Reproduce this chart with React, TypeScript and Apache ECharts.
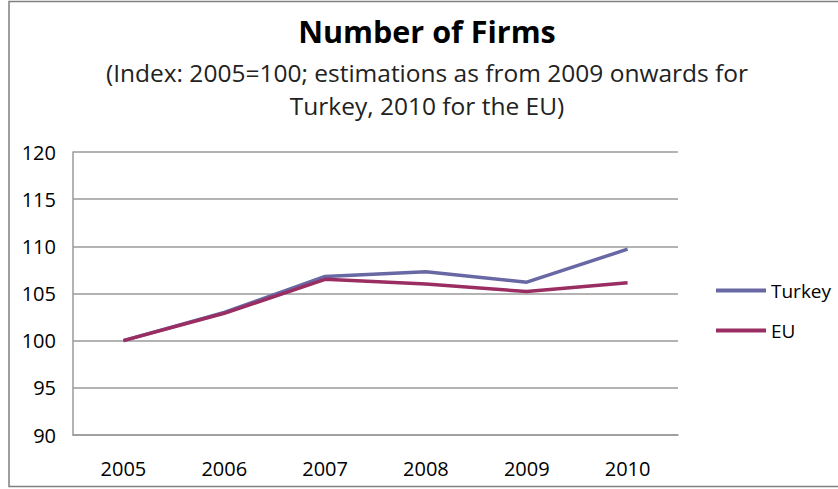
import React, { useEffect, useRef } from "react";
import * as echarts from "echarts";

const years = ["2005", "2006", "2007", "2008", "2009", "2010"];
const turkey = [100, 103.0, 106.8, 107.3, 106.2, 109.7];
const eu = [100, 102.9, 106.5, 106.0, 105.2, 106.15];
const titleText = "Number of Firms";
const subtitleText = "(Index: 2005=100; estimations as from 2009 onwards for\nTurkey, 2010 for the EU)";

const FONT = "'Open Sans', Lato, sans-serif";

export default function App() {
  const ref = useRef<HTMLDivElement>(null);
  useEffect(() => {
    if (!ref.current) return;
    const chart = echarts.init(ref.current, null, { renderer: "svg" });
    chart.setOption({
      animation: false,
      backgroundColor: "#ffffff",
      textStyle: { fontFamily: FONT },
      title: {
        text: titleText,
        subtext: subtitleText,
        left: 422,
        textAlign: "center",
        top: 10,
        itemGap: 10,
        textStyle: { fontSize: 30.5, fontWeight: "bold", color: "#000", fontFamily: FONT },
        subtextStyle: { fontSize: 24.5, color: "#222", lineHeight: 33, fontFamily: FONT },
      },
      graphic: [
        {
          type: "rect",
          shape: { x: 9, y: 1.5, width: 840, height: 485 },
          style: { fill: "none", stroke: "#7f7f7f", lineWidth: 1.5 },
          silent: true,
        },
      ],
      legend: {
        orient: "vertical",
        left: 711,
        top: 276,
        itemWidth: 50,
        itemHeight: 4,
        itemGap: 21,
        icon: "rect",
        textStyle: { fontSize: 19, color: "#000", fontFamily: FONT },
        data: ["Turkey", "EU"],
      },
      grid: { left: 73, right: 160, top: 152, bottom: 54, containLabel: false },
      xAxis: {
        type: "category",
        data: years,
        boundaryGap: true,
        axisLine: { show: true, lineStyle: { color: "#9a9a9a", width: 1.5 } },
        axisTick: { show: false },
        axisLabel: { fontSize: 20, color: "#000", margin: 23, fontFamily: FONT },
      },
      yAxis: {
        type: "value",
        min: 90,
        max: 120,
        interval: 5,
        axisLine: { show: true, lineStyle: { color: "#9a9a9a", width: 1.5 } },
        axisTick: { show: false },
        axisLabel: { fontSize: 20, color: "#000", margin: 17, fontFamily: FONT },
        splitLine: { show: true, lineStyle: { color: "#9a9a9a", width: 1.5 } },
      },
      series: [
        {
          name: "Turkey",
          type: "line",
          data: turkey,
          symbol: "none",
          color: "#6868a4",
          lineStyle: { width: 3.5, color: "#6868a4" },
        },
        {
          name: "EU",
          type: "line",
          data: eu,
          symbol: "none",
          color: "#9a2e62",
          lineStyle: { width: 3.5, color: "#9a2e62" },
        },
      ],
    });
    return () => chart.dispose();
  }, []);
  return (
    <div
      ref={ref}
      style={{ position: "fixed", left: 0, top: 0, width: 838, height: 489 }}
    />
  );
}
